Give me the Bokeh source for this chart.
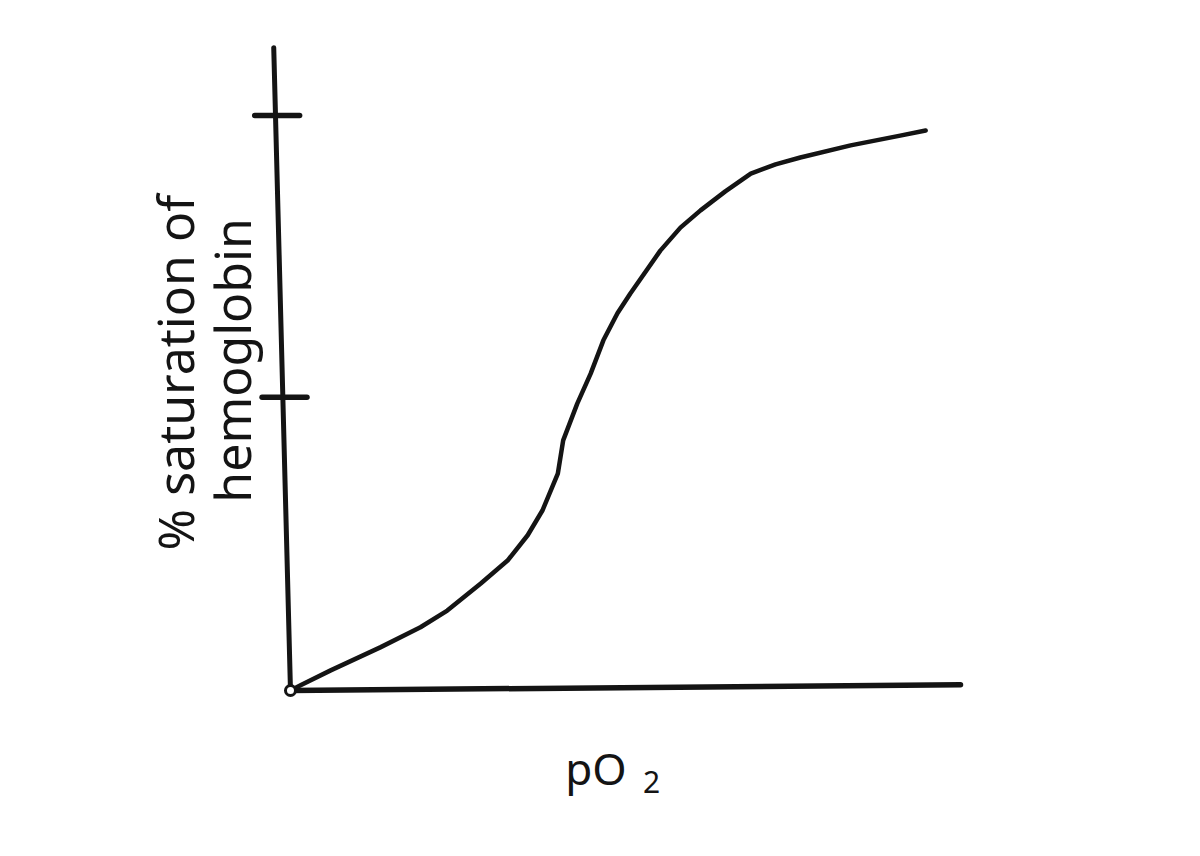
import math
from bokeh.plotting import figure
from bokeh.models import Label, ColumnDataSource
from bokeh.embed import file_html
from bokeh.resources import INLINE

# --- data read from the hand-drawn oxygen–hemoglobin dissociation curve ---
po2 = [0, 1.5, 6.0, 13.4, 19.4, 23.4, 28.4, 32.4, 35.4, 37.6, 39.9, 40.7,
       42.8, 44.8, 46.7, 48.8, 50.7, 55.2, 58.2, 61.2, 64.9, 68.7, 72.4,
       76.1, 83.6, 91.0, 94.8]
saturation = [0, 0.9, 3.5, 7.5, 11.0, 13.9, 18.6, 22.6, 27.0, 31.3, 37.7, 43.5,
              49.9, 55.1, 60.9, 65.6, 69.0, 76.5, 80.5, 83.5, 86.8, 89.9, 91.5,
              92.7, 94.8, 96.5, 97.4]

# hand-drawn axes (x: pO2, y: % saturation)
x_axis_x = [0, 100]
x_axis_y = [0, 1.0]
y_axis_x = [0, -2.5]
y_axis_y = [0, 111.8]
tick_levels = [51, 100]

INK = "#141414"

p = figure(width=1200, height=856,
           x_range=(-43.28, 135.82), y_range=(-28.87, 120.0),
           output_backend="svg", toolbar_location=None,
           x_axis_location=None, y_axis_location=None,
           min_border=0)
p.grid.visible = False
p.outline_line_color = None
p.background_fill_color = "white"
p.border_fill_color = "white"

# axes
p.line(x_axis_x, x_axis_y, line_color=INK, line_width=5.5, line_cap="round")
p.line(y_axis_x, y_axis_y, line_color=INK, line_width=5, line_cap="round")

# ticks crossing the y axis
tick_center = [y_axis_x[0] + (y_axis_x[1] - y_axis_x[0]) * t / y_axis_y[1] for t in tick_levels]
tick_src = ColumnDataSource(dict(
    x0=[c - 3.1 for c in tick_center], x1=[c + 3.6 for c in tick_center],
    y=tick_levels))
p.segment(x0="x0", y0="y", x1="x1", y1="y", source=tick_src,
          line_color=INK, line_width=5.5, line_cap="round")

# curve
p.line(po2, saturation, line_color=INK, line_width=4.5, line_join="round", line_cap="round")

# origin dot
p.scatter([po2[0]], [saturation[0]], size=10, fill_color="white",
          line_color=INK, line_width=3)

FONT = "Noto Sans"
p.add_layout(Label(x=-17.2, y=55.3, text="% saturation of", angle=math.pi / 2,
                   text_align="center", text_baseline="middle",
                   text_font=FONT, text_font_size="50px", text_color=INK))
p.add_layout(Label(x=-8.7, y=57.4, text="hemoglobin", angle=math.pi / 2,
                   text_align="center", text_baseline="middle",
                   text_font=FONT, text_font_size="50px", text_color=INK))
p.add_layout(Label(x=41.0, y=-13.4, text="pO", text_align="left",
                   text_baseline="alphabetic",
                   text_font=FONT, text_font_size="44px", text_color=INK))
p.add_layout(Label(x=52.6, y=-16.0, text="2", text_align="left",
                   text_baseline="alphabetic",
                   text_font=FONT, text_font_size="30px", text_color=INK))

open("out.html", "w").write(file_html(p, INLINE))
